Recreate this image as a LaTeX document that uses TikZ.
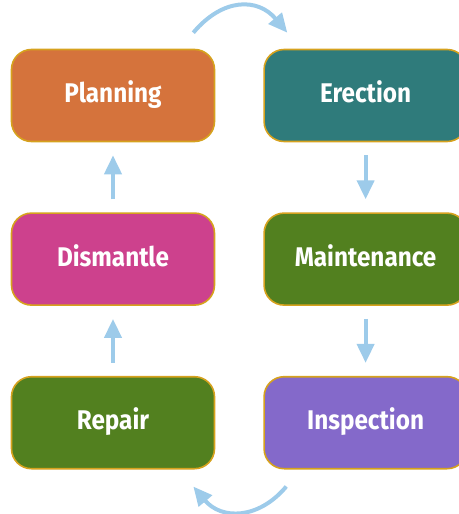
\documentclass[tikz,border=0pt]{standalone}
\usepackage{fontspec}
\setmainfont{Fira Sans}[FakeStretch=0.9]
\usetikzlibrary{positioning,arrows.meta}
\definecolor{rim}{HTML}{D6A21E}
\definecolor{flowblue}{HTML}{9DCBEA}
\definecolor{cplan}{HTML}{D5733C}
\definecolor{cerect}{HTML}{2F7B7B}
\definecolor{cgreen}{HTML}{52801F}
\definecolor{cdism}{HTML}{CD418D}
\definecolor{cinsp}{HTML}{8469CA}

\begin{document}
\begin{tikzpicture}[x=1pt,y=1pt]
\tikzset{stage/.style={draw=rim,line width=1.6pt,rounded corners=20pt,minimum width=203pt,minimum height=92pt,text height=20pt,text depth=6pt,text=white,font=\fontsize{27}{31}\selectfont\bfseries},
flow/.style={draw=flowblue,line width=4pt,-{Triangle[width=17pt,length=19pt]}}}
\useasboundingbox (0,0) rectangle (458,-514);
\node[stage,fill=cplan] (planning) at (113,-95.5) {Planning};
\node[stage,fill=cerect,right=48pt of planning] (erection) {Erection};
\node[stage,fill=cgreen,below=70pt of erection] (maintenance) {Maintenance};
\node[stage,fill=cdism,below=70pt of planning] (dismantle) {Dismantle};
\node[stage,fill=cinsp,below=70pt of maintenance] (inspection) {Inspection};
\node[stage,fill=cgreen,below=70pt of dismantle] (repair) {Repair};
\draw[flow] ([xshift=-22pt,yshift=16pt]planning.north east) to[out=50,in=130,looseness=1.25] ([xshift=24pt,yshift=16pt]erection.north west);
\draw[flow] ([yshift=-13pt]erection.south) -- ([yshift=13pt]maintenance.north);
\draw[flow] ([yshift=-13pt]maintenance.south) -- ([yshift=13pt]inspection.north);
\draw[flow] ([xshift=23pt,yshift=-17pt]inspection.south west) to[out=-130,in=-50,looseness=1.2] ([xshift=-22pt,yshift=-17pt]repair.south east);
\draw[flow] ([yshift=13pt]repair.north) -- ([yshift=-13pt]dismantle.south);
\draw[flow] ([yshift=13pt]dismantle.north) -- ([yshift=-13pt]planning.south);
\end{tikzpicture}
\end{document}
